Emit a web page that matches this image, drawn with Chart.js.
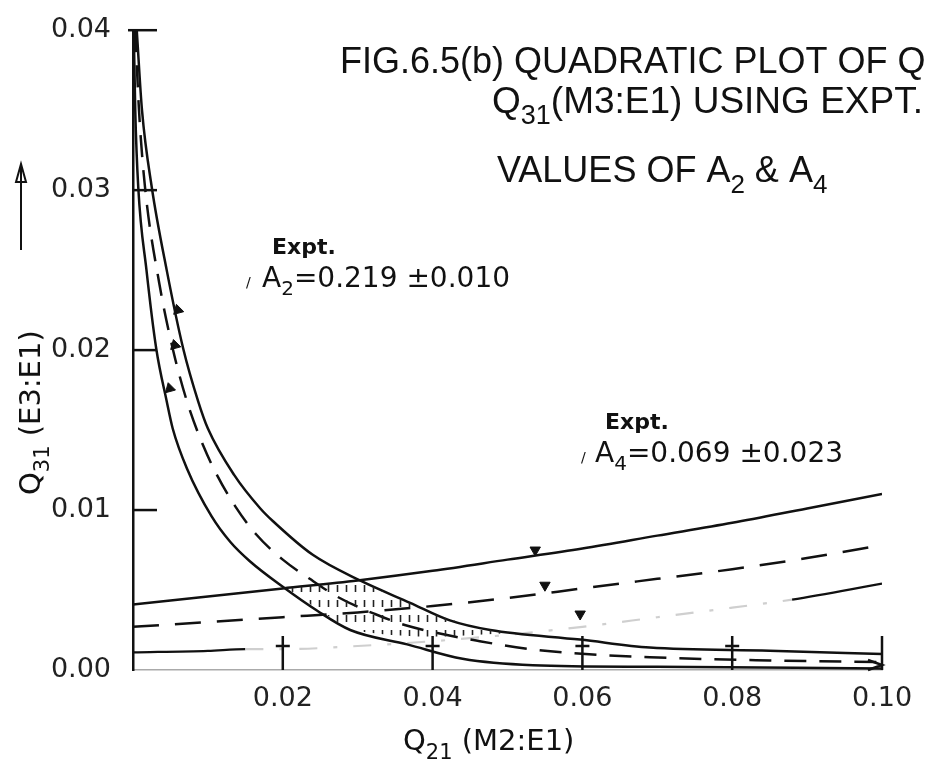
<!DOCTYPE html>
<html>
<head>
<meta charset="utf-8">
<script src="https://cdn.jsdelivr.net/npm/chart.js@4.4.1/dist/chart.umd.min.js"></script>
<style>
  body { margin: 0; background: #fff; }
  canvas { display: block; }
</style>
</head>
<body>
<canvas id="plot" width="925" height="770"></canvas>
<script>
// A2 curves (upper, central dashed, lower)
let a2UpperX = [0.0005, 0.0012, 0.0025, 0.0045, 0.0067, 0.0087, 0.0100, 0.0135, 0.0170, 0.0187, 0.0240, 0.0303, 0.0370, 0.0423, 0.0477, 0.0597, 0.0690, 0.0850, 0.1000];
let a2UpperY = [0.0400, 0.0350, 0.0302, 0.0250, 0.0201, 0.0168, 0.0151, 0.0122, 0.0101, 0.0093, 0.0072, 0.0056, 0.0042, 0.0031, 0.0025, 0.0019, 0.0014, 0.0012, 0.0010];

let a2MidX = [0.0003, 0.0008, 0.0016, 0.0035, 0.0053, 0.0072, 0.0094, 0.0112, 0.0137, 0.0164, 0.0200, 0.0236, 0.0276, 0.0323, 0.0364, 0.0463, 0.0550, 0.0690, 0.0850, 0.1000];
let a2MidY = [0.0400, 0.0350, 0.0302, 0.0242, 0.0201, 0.0168, 0.0140, 0.0122, 0.0102, 0.0085, 0.0069, 0.0057, 0.0045, 0.0035, 0.0028, 0.0018, 0.0012, 0.0008, 0.0006, 0.0005];

let a2LowerX = [0.0001, 0.0003, 0.0007, 0.0018, 0.0031, 0.0045, 0.0053, 0.0072, 0.0105, 0.0130, 0.0156, 0.0200, 0.0246, 0.0290, 0.0366, 0.0440, 0.0534, 0.0700, 0.1000];
let a2LowerY = [0.0400, 0.0350, 0.0302, 0.0250, 0.0201, 0.0168, 0.0151, 0.0126, 0.0096, 0.0080, 0.0068, 0.0052, 0.0037, 0.0025, 0.0016, 0.0007, 0.0003, 0.0002, 0.0001];

// A4 curves
let a4X = [0, 0.01, 0.02, 0.03, 0.04, 0.05, 0.06, 0.07, 0.08, 0.09, 0.10];
let a4UpperY = [0.0041, 0.0046, 0.0051, 0.0056, 0.0062, 0.0069, 0.0076, 0.0084, 0.0092, 0.0101, 0.0110];
let a4MidY = [0.0027, 0.0030, 0.0033, 0.0036, 0.0040, 0.0045, 0.0051, 0.0057, 0.0063, 0.0070, 0.0078];
let a4LowerX = [0, 0.01, 0.015, 0.02, 0.03, 0.04, 0.05, 0.06, 0.07, 0.08, 0.088, 0.10];
let a4LowerY = [0.0011, 0.0012, 0.0013, 0.0013, 0.0015, 0.0018, 0.0022, 0.0027, 0.0033, 0.0039, 0.0044, 0.0054];

// hatched overlap region
let overlapX = [0.0206, 0.0240, 0.0280, 0.0303, 0.0340, 0.0380, 0.0420, 0.0460, 0.0500];
let overlapTop = [0.0051, 0.0053, 0.0055, 0.0056, 0.0048, 0.0040, 0.0032, 0.0027, 0.0023];
let overlapBottom = [0.0051, 0.0040, 0.0028, 0.0024, 0.0022, 0.0021, 0.0021, 0.0022, 0.0023];

// little arrowheads on the curves
let arrowX = [0.0060, 0.0056, 0.0049, 0.0537, 0.0550, 0.0597];
let arrowY = [0.0225, 0.0203, 0.0176, 0.0075, 0.0053, 0.0035];
let arrowRot = [225, 225, 225, 180, 180, 180];

let xTicks = [0.02, 0.04, 0.06, 0.08, 0.10];
let yTicks = [0.01, 0.02, 0.03, 0.04];

let pts = (xs, ys) => xs.map((x, i) => ({x: x, y: ys[i]}));

let ink = '#111';
let tickFont = '"DejaVu Sans", sans-serif';

// sparse hatch pattern for the overlap
let makeHatch = () => {
  let c = document.createElement('canvas');
  c.width = 9; c.height = 15;
  let g = c.getContext('2d');
  g.strokeStyle = '#222';
  g.lineWidth = 1.6;
  g.beginPath();
  g.moveTo(4.5, 0);
  g.lineTo(4.5, 7);
  g.stroke();
  return g.createPattern(c, 'repeat');
};

// text with subscripts: parts = [[text, isSub], ...]
let drawParts = (ctx, parts, x, y, size, family, weight) => {
  let cx = x;
  parts.forEach(p => {
    let sub = p[1];
    let s = sub ? Math.round(size * 0.72) : size;
    ctx.font = (weight || 'normal') + ' ' + s + 'px ' + family;
    ctx.fillText(p[0], cx, sub ? y + size * 0.3 : y);
    cx += ctx.measureText(p[0]).width;
  });
  return cx;
};

let decoPlugin = {
  id: 'deco',
  afterDraw(chart) {
    let ctx = chart.ctx;
    let xs = chart.scales.x, ys = chart.scales.y;
    let left = xs.left, bottom = ys.bottom;
    ctx.save();
    ctx.strokeStyle = ink;
    ctx.fillStyle = ink;
    ctx.lineWidth = 2.5;

    // inward y ticks
    yTicks.forEach(v => {
      let py = ys.getPixelForValue(v);
      ctx.beginPath();
      ctx.moveTo(v === 0.04 ? left - 5 : left, py);
      ctx.lineTo(left + 24, py);
      ctx.stroke();
    });
    // inward x ticks with crossbars
    xTicks.forEach((v, i) => {
      let px = xs.getPixelForValue(v);
      ctx.beginPath();
      ctx.moveTo(px, bottom);
      ctx.lineTo(px, bottom - 34);
      if (i < xTicks.length - 1) {
        ctx.moveTo(px - 7, bottom - 24);
        ctx.lineTo(px + 7, bottom - 24);
      }
      ctx.stroke();
    });
    // arrow at end of x axis
    let xr = xs.getPixelForValue(0.10);
    ctx.beginPath();
    ctx.moveTo(xr - 14, bottom - 10);
    ctx.lineTo(xr, bottom - 5);
    ctx.lineTo(xr - 14, bottom);
    ctx.stroke();

    // y title arrow
    ctx.lineWidth = 2;
    ctx.beginPath();
    ctx.moveTo(21, 250);
    ctx.lineTo(21, 168);
    ctx.stroke();
    ctx.beginPath();
    ctx.moveTo(16, 182);
    ctx.lineTo(21, 164);
    ctx.lineTo(26, 182);
    ctx.closePath();
    ctx.stroke();

    // title block
    let tf = '"Liberation Sans", sans-serif';
    ctx.textBaseline = 'alphabetic';
    ctx.textAlign = 'left';
    drawParts(ctx, [['FIG.6.5(b) QUADRATIC PLOT OF Q', false]], 340, 73, 36, tf);
    drawParts(ctx, [['Q', false], ['31', true], ['(M3:E1) USING EXPT.', false]], 492, 113, 37, tf);
    drawParts(ctx, [['VALUES OF A', false], ['2', true], [' & A', false], ['4', true]], 497, 182, 36, tf);

    // annotations with their leader ticks
    drawParts(ctx, [['Expt.', false]], 272, 254, 22, tickFont, 'bold');
    drawParts(ctx, [['/', false]], 246, 287, 14, tickFont);
    drawParts(ctx, [['A', false], ['2', true], ['=0.219 \u00b10.010', false]], 262, 287, 28, tickFont);
    drawParts(ctx, [['Expt.', false]], 605, 429, 22, tickFont, 'bold');
    drawParts(ctx, [['/', false]], 581, 462, 14, tickFont);
    drawParts(ctx, [['A', false], ['4', true], ['=0.069 \u00b10.023', false]], 595, 462, 28, tickFont);

    // x title
    drawParts(ctx, [['Q', false], ['21', true], [' (M2:E1)', false]], 403, 750, 29, tickFont);

    // y title, rotated
    ctx.translate(40, 400);
    ctx.rotate(-Math.PI / 2);
    drawParts(ctx, [['Q', false], ['31', true], [' (E3:E1)', false]], -95, 0, 29, tickFont);
    ctx.restore();
  }
};

let lineDs = (label, xs, ys, dash, width) => ({
  label: label,
  data: pts(xs, ys),
  borderColor: ink,
  borderWidth: width || 2.5,
  borderDash: dash || [],
  pointRadius: 0,
  fill: false,
  cubicInterpolationMode: 'monotone'
});

let lowerA4 = lineDs('A4 lower', a4LowerX, a4LowerY, [], 2.2);
let faintPart = c => c.p0.parsed.x >= 0.015 && c.p1.parsed.x <= 0.088;
lowerA4.segment = {
  borderColor: c => faintPart(c) ? '#cfcfcf' : ink,
  borderDash: c => faintPart(c) ? [18, 16, 4, 16] : []
};

let config = {
  type: 'line',
  data: {
    datasets: [
      {
        label: 'overlap top',
        data: pts(overlapX, overlapTop),
        borderWidth: 0,
        pointRadius: 0,
        backgroundColor: makeHatch(),
        fill: '+1'
      },
      {
        label: 'overlap bottom',
        data: pts(overlapX, overlapBottom),
        borderWidth: 0,
        pointRadius: 0,
        fill: false
      },
      lineDs('A2 upper', a2UpperX, a2UpperY),
      lineDs('A2 expt', a2MidX, a2MidY, [22, 13]),
      lineDs('A2 lower', a2LowerX, a2LowerY),
      lineDs('A4 upper', a4X, a4UpperY),
      lineDs('A4 expt', a4X, a4MidY, [26, 16]),
      lowerA4,
      {
        label: 'arrows',
        type: 'scatter',
        data: pts(arrowX, arrowY),
        pointStyle: 'triangle',
        pointRotation: arrowRot,
        pointRadius: 6,
        pointBackgroundColor: ink,
        pointBorderColor: ink,
        pointBorderWidth: 1,
        showLine: false
      }
    ]
  },
  options: {
    responsive: false,
    animation: false,
    layout: { padding: { top: 25, right: 43, left: 0, bottom: 0 } },
    plugins: {
      legend: { display: false },
      tooltip: { enabled: false },
      title: { display: false }
    },
    scales: {
      x: {
        type: 'linear',
        min: 0,
        max: 0.10,
        grid: { display: false },
        border: { display: true, color: '#aaa', width: 1.5, dash: [5, 7] },
        ticks: {
          stepSize: 0.02,
          padding: 5,
          color: '#222',
          font: { family: 'DejaVu Sans', size: 27 },
          callback: v => v === 0 ? '' : v.toFixed(2)
        },
        afterFit: s => { s.height = 100; }
      },
      y: {
        type: 'linear',
        min: 0,
        max: 0.04,
        grid: { display: false },
        border: { display: true, color: ink, width: 2.5 },
        ticks: {
          stepSize: 0.01,
          padding: 14,
          color: '#222',
          font: { family: 'DejaVu Sans', size: 27 },
          callback: v => v.toFixed(2)
        },
        afterFit: s => { s.width = 133; }
      }
    }
  },
  plugins: [decoPlugin]
};

new Chart(document.getElementById('plot'), config);
</script>
</body>
</html>
